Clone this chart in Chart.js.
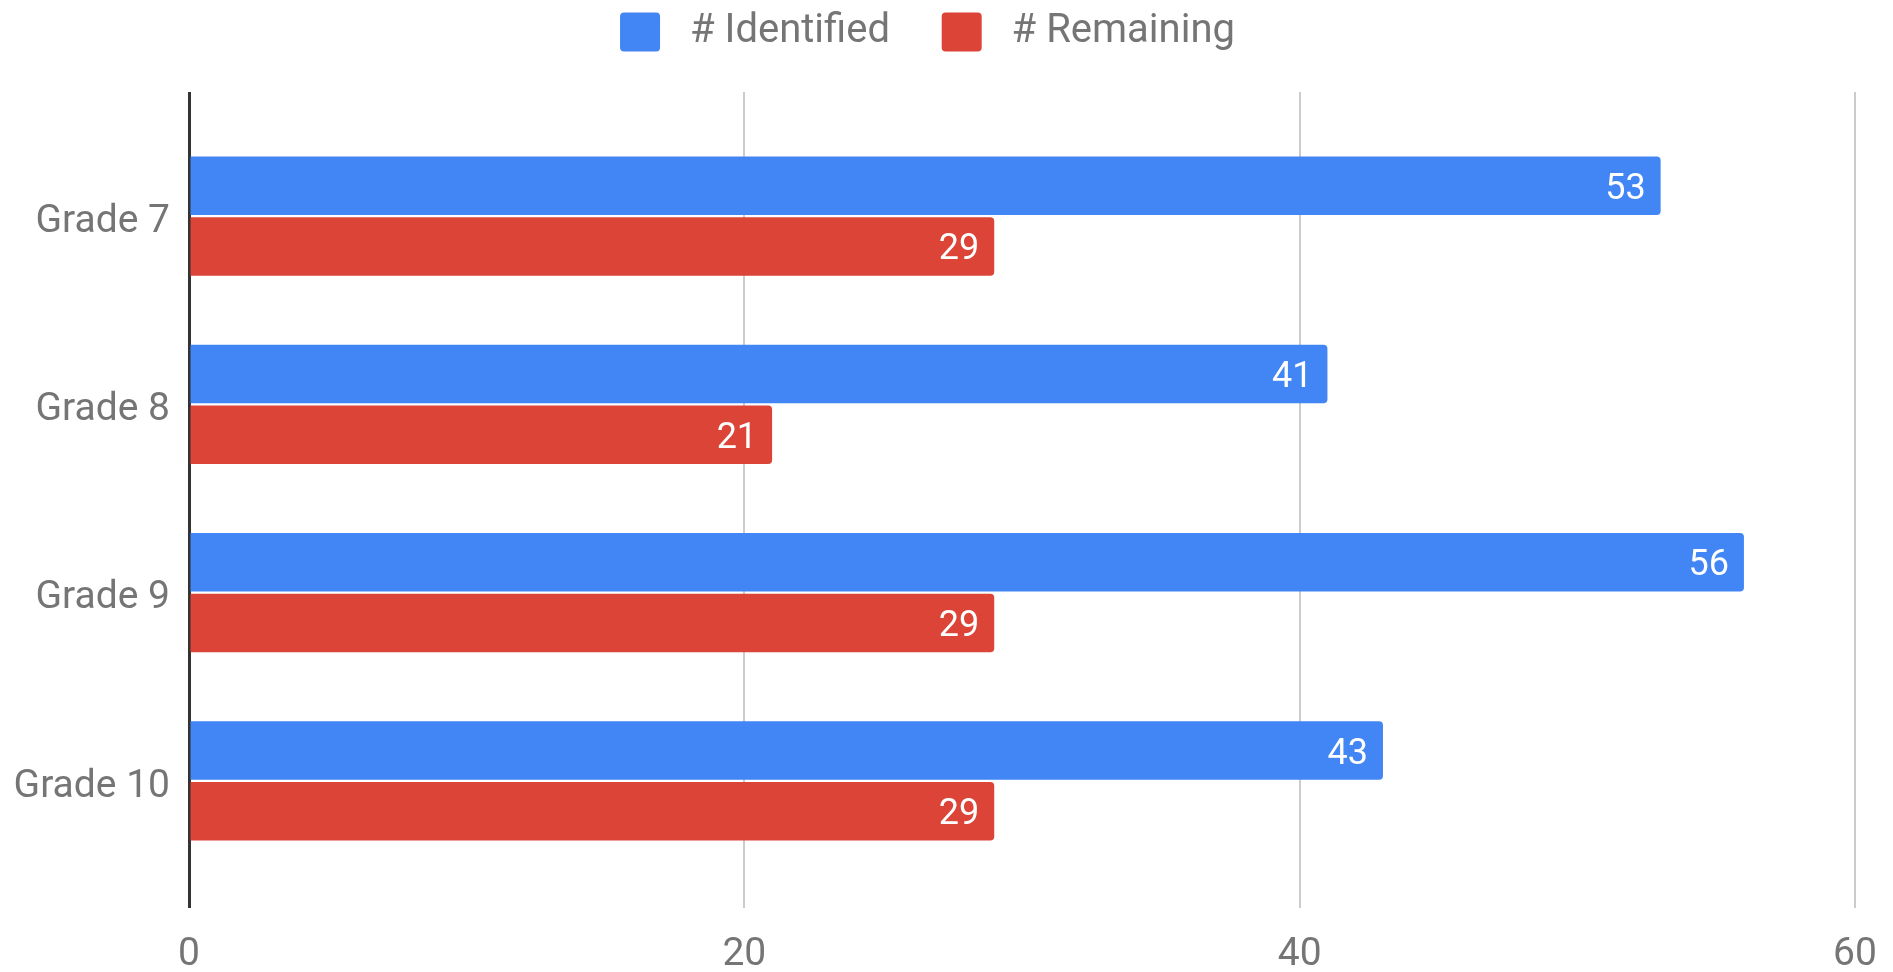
<!DOCTYPE html>
<html>
<head>
<meta charset="utf-8">
<script src="https://cdn.jsdelivr.net/npm/chart.js@4"></script>
<style>
  html, body { margin: 0; padding: 0; background: #fff; }
  canvas { display: block; }
</style>
</head>
<body>
<canvas id="gradeChart" width="1893" height="972"></canvas>
<script>
// chart data
const grades = ['Grade 7', 'Grade 8', 'Grade 9', 'Grade 10'];
const identified = [53, 41, 56, 43];
const remaining = [29, 21, 29, 29];
const seriesNames = ['# Identified', '# Remaining'];
const xTicks = [0, 20, 40, 60];

const gray = '#757575';
const gridColor = v => v === 0 ? '#333333' : '#cccccc';
const gridWidth = v => v === 0 ? 3 : 2;

// white value labels at the end of each bar
const barValues = {
  id: 'barValues',
  afterDatasetsDraw(chart) {
    const ctx = chart.ctx;
    ctx.save();
    ctx.font = '36px Roboto';
    ctx.fillStyle = '#ffffff';
    ctx.textAlign = 'right';
    ctx.textBaseline = 'middle';
    chart.data.datasets.forEach((ds, i) => {
      chart.getDatasetMeta(i).data.forEach((bar, j) => {
        ctx.fillText(ds.data[j], bar.x - 15, bar.y + 4);
      });
    });
    ctx.restore();
  }
};

const ctx = document.getElementById('gradeChart').getContext('2d');
const chart = new Chart(ctx, {
  type: 'bar',
  data: {
    labels: grades,
    datasets: [{
      label: seriesNames[0],
      data: identified,
      backgroundColor: '#4285F4',
      borderRadius: 4,
      borderSkipped: 'start'
    }, {
      label: seriesNames[1],
      data: remaining,
      backgroundColor: '#DB4437',
      borderRadius: 4,
      borderSkipped: 'start'
    }]
  },
  options: {
    indexAxis: 'y',
    responsive: false,
    animation: false,
    devicePixelRatio: 1,
    categoryPercentage: 0.645,
    barPercentage: 0.965,
    layout: { padding: { left: 0, right: 38, top: 0, bottom: 0 } },
    plugins: {
      tooltip: { enabled: false },
      legend: {
        position: 'top',
        labels: {
          font: { family: 'Roboto', size: 40 },
          color: gray,
          boxWidth: 40,
          boxHeight: 39,
          padding: 12,
          useBorderRadius: true,
          borderRadius: 4,
          generateLabels(chart) {
            const items = Chart.defaults.plugins.legend.labels.generateLabels(chart);
            items.forEach((it, i) => {
              it.text = ' ' + it.text + (i < items.length - 1 ? '    ' : '');
            });
            return items;
          }
        }
      }
    },
    scales: {
      x: {
        position: 'bottom',
        min: xTicks[0],
        max: xTicks[xTicks.length - 1],
        afterBuildTicks: s => { s.ticks = xTicks.map(v => ({ value: v })); },
        afterFit: s => { s.height = 97; s.paddingLeft = 0; s.paddingRight = 0; },
        border: { display: false },
        grid: {
          color: c => gridColor(c.tick.value),
          lineWidth: c => gridWidth(c.tick.value),
          tickLength: 33
        },
        ticks: {
          font: { family: 'Roboto', size: 39 },
          color: gray,
          padding: 24
        }
      },
      x2: {
        type: 'linear',
        axis: 'x',
        position: 'top',
        min: xTicks[0],
        max: xTicks[xTicks.length - 1],
        z: 1,
        afterBuildTicks: s => { s.ticks = xTicks.map(v => ({ value: v })); },
        afterFit: s => { s.height = 60; s.paddingLeft = 0; s.paddingRight = 0; },
        border: { display: false },
        grid: {
          color: c => c.tick.value === 0 ? '#333333' : 'rgba(0,0,0,0)',
          tickColor: c => gridColor(c.tick.value),
          lineWidth: c => gridWidth(c.tick.value),
          tickLength: 30
        },
        ticks: { display: false }
      },
      y: {
        afterFit: s => { s.width = 189; },
        border: { display: false },
        grid: { display: false, drawTicks: false },
        ticks: {
          font: { family: 'Roboto', size: 39 },
          color: gray,
          padding: 19,
          labelOffset: 6
        }
      }
    }
  },
  plugins: [barValues]
});
</script>
</body>
</html>
